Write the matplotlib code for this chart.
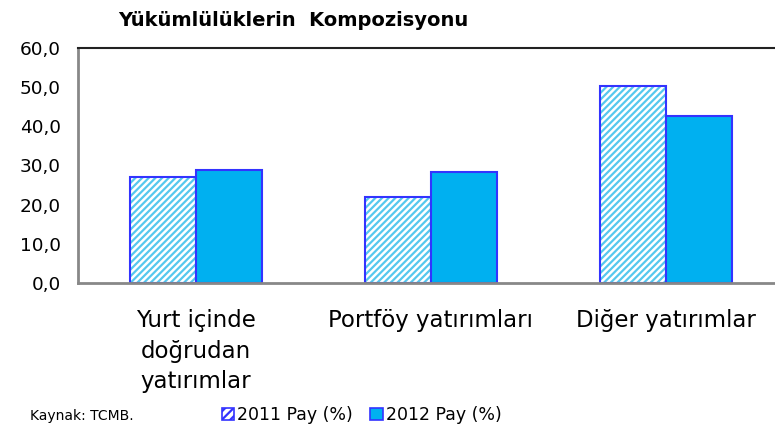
import numpy as np
import matplotlib.pyplot as plt
from matplotlib.patches import Patch

categories = ["Yurt içinde\ndoğrudan\nyatırımlar", "Portföy yatırımları", "Diğer yatırımlar"]
pay_2011 = [27.0, 22.0, 50.3]
pay_2012 = [28.9, 28.4, 42.6]
series_names = ["2011 Pay (%)", "2012 Pay (%)"]
yticks = [0, 10, 20, 30, 40, 50, 60]

plt.rcParams["font.family"] = ["DejaVu Sans"]
plt.rcParams["hatch.linewidth"] = 1.6

edge = "#3333FF"
hatch_col = "#55C8EE"
fill_2012 = "#00B0F0"

fig = plt.figure(figsize=(7.75, 4.38), dpi=100)
ax = fig.add_axes([78 / 775, 1 - 283 / 438, 700 / 775, 235 / 438])

x = np.arange(len(categories))
w = 0.281

ax.bar(x - w / 2, pay_2011, w, color="white", edgecolor=hatch_col, hatch="/////", linewidth=0)
ax.bar(x - w / 2, pay_2011, w, fill=False, edgecolor=edge, linewidth=1.5)
ax.bar(x + w / 2, pay_2012, w, color=fill_2012, edgecolor=edge, linewidth=1.5)

ax.set_xlim(-0.502, 2.477)
ax.set_ylim(0, 60)
ax.set_yticks(yticks)
ax.set_yticklabels([f"{v:.1f}".replace(".", ",") for v in yticks], fontsize=13.3)
ax.set_xticks(x)
ax.set_xticklabels(categories, fontsize=16.5, linespacing=1.4, va="top")
ax.tick_params(length=0)
ax.tick_params(axis="y", pad=12.5)
ax.tick_params(axis="x", pad=19)

for s in ["left", "bottom"]:
    ax.spines[s].set_color("#888888")
    ax.spines[s].set_linewidth(2)
ax.spines["top"].set_color("#222222")
ax.spines["top"].set_linewidth(1.5)
ax.spines["right"].set_visible(False)

fig.text(118 / 775, 1 - 20 / 438, "Yükümlülüklerin  Kompozisyonu", fontsize=14,
         fontweight="bold", va="center", ha="left")
fig.text(30 / 775, 1 - 416 / 438, "Kaynak: TCMB.", fontsize=10, va="center", ha="left")

h2011 = Patch(facecolor="white", edgecolor=edge, hatch="////", linewidth=1.2)
h2012 = Patch(facecolor=fill_2012, edgecolor=edge, linewidth=1.2)
fig.legend([h2011, h2012], series_names, loc="center left",
           bbox_to_anchor=(206 / 775, 1 - 415 / 438), ncol=2, frameon=False,
           fontsize=12.5, handlelength=0.7, handleheight=0.7, handletextpad=0.2,
           columnspacing=1.0)

fig.savefig("out.png", dpi=100)
